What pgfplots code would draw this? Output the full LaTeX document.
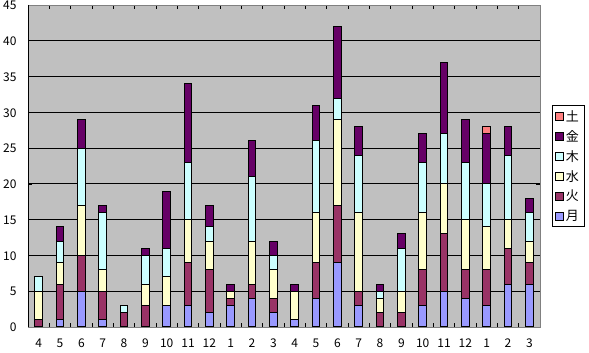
\documentclass[border=0pt]{standalone}
\usepackage{pgfplots}
\usepackage{pgfplotstable}
\pgfplotsset{compat=1.18}
\usepackage{fontspec}
\setmainfont{Noto Sans CJK JP}
\definecolor{cmon}{HTML}{9999FF}
\definecolor{ctue}{HTML}{993366}
\definecolor{cwed}{HTML}{FFFFCC}
\definecolor{cthu}{HTML}{CCFFFF}
\definecolor{cfri}{HTML}{660066}
\definecolor{csat}{HTML}{FF8080}
\definecolor{bgray}{HTML}{C0C0C0}
\definecolor{fgray}{HTML}{808080}
\pgfplotstableread{
x mon tue wed thu fri sat
0  0 1 4 2 0 0
1  1 5 3 3 2 0
2  5 5 7 8 4 0
3  1 4 3 8 1 0
4  0 2 0 1 0 0
5  0 3 3 4 1 0
6  3 0 4 4 8 0
7  3 6 6 8 11 0
8  2 6 4 2 3 0
9  3 1 1 0 1 0
10 4 2 6 9 5 0
11 2 2 4 2 2 0
12 1 0 4 0 1 0
13 4 5 7 10 5 0
14 9 8 12 3 10 0
15 3 2 11 8 4 0
16 0 2 2 1 1 0
17 0 2 3 6 2 0
18 3 5 8 7 4 0
19 5 8 7 7 10 0
20 4 4 7 8 6 0
21 3 5 6 6 7 1
22 6 5 4 9 4 0
23 6 3 3 4 2 0
}\datatable
\begin{document}
\begin{tikzpicture}
\begin{axis}[
  at={(28pt,26pt)}, anchor=south west,
  scale only axis, width=512pt, height=322pt,
  xmin=-0.5, xmax=23.5, ymin=0, ymax=45,
  ytick={0,5,...,45},
  ymajorgrids, grid style={black, line width=0.8pt},
  xtick={0,...,23},
  xticklabels={4,5,6,7,8,9,10,11,12,1,2,3,4,5,6,7,8,9,10,11,12,1,2,3},
  minor xtick={0.5,1.5,...,22.5},
  major x tick style={draw=none},
  minor x tick style={black, line width=0.6pt},
  minor tick length=4pt,
  ytick style={black, line width=0.6pt},
  tick align=inside, major tick length=4pt,
  axis background/.style={fill=bgray},
  axis line style={draw=fgray, line width=0.8pt},
  tick label style={font=\fontsize{12}{12}\selectfont},
  /pgf/number format/assume math mode=true,
  xticklabel style={yshift=-8pt},
  yticklabel style={xshift=-8pt, yshift=-0.5pt},
  ybar stacked, bar width=7.5pt,
  every axis plot/.append style={draw=black, line width=1pt},
  every axis plot post/.append style={legend image code/.code={\draw[##1,line width=0.6pt] (0pt,-4pt) rectangle (8pt,4pt);}},
  reverse legend,
  legend style={at={(1,0.5)}, anchor=west, xshift=12pt, draw=black, fill=white,
    line width=0.6pt,
    font=\fontsize{13}{13}\selectfont, row sep=2.6pt, inner sep=2.5pt,
    nodes={inner sep=2.5pt}},
  legend cell align=left,
]
\addplot[fill=cmon] table[x=x,y=mon]{\datatable};
\addplot[fill=ctue] table[x=x,y=tue]{\datatable};
\addplot[fill=cwed] table[x=x,y=wed]{\datatable};
\addplot[fill=cthu] table[x=x,y=thu]{\datatable};
\addplot[fill=cfri] table[x=x,y=fri]{\datatable};
\addplot[fill=csat] table[x=x,y=sat]{\datatable};
\legend{月,火,水,木,金,土}
\draw[black, line width=0.8pt] (rel axis cs:0,1) -- (rel axis cs:0,0) -- (rel axis cs:1,0);
\end{axis}
\pgfresetboundingbox
\useasboundingbox (0,0) rectangle (589pt,353pt);
\end{tikzpicture}
\end{document}
